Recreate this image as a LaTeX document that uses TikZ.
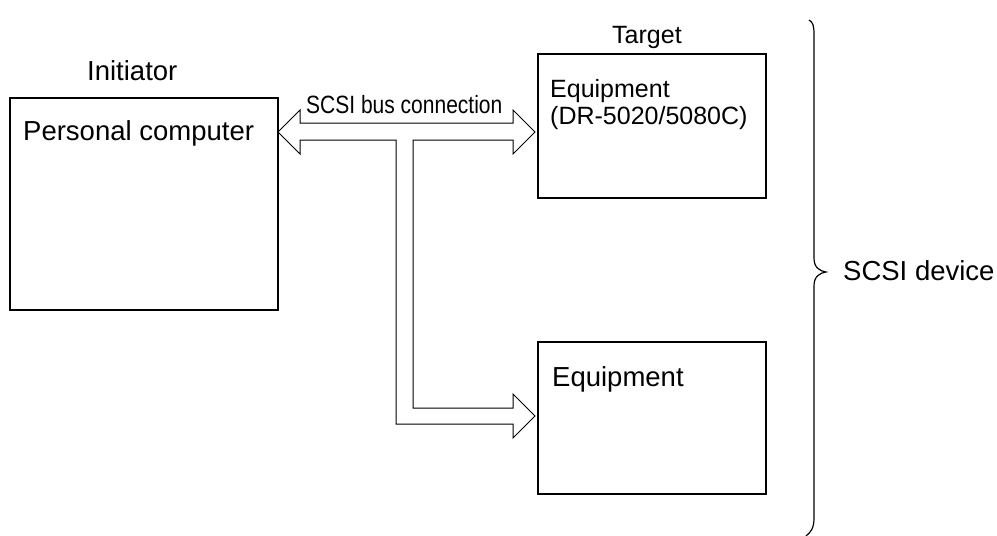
\documentclass[tikz,border=0pt]{standalone}
\usepackage{fontspec}
\setmainfont{Liberation Sans}
\usepackage{graphicx}
\usetikzlibrary{positioning}
\tikzset{scsibox/.style={draw=black,line width=2pt,inner sep=0pt,anchor=north west},
 scsitxt/.style={inner sep=0pt,anchor=base west,align=left,
 font=\fontsize{27.5}{27}\selectfont},
 smalltxt/.style={scsitxt,font=\fontsize{25}{27}\selectfont},
 busarrow/.style={draw=black,line width=1pt,line join=miter,fill=white},
 bracket/.style={draw=black,line width=1.2pt}}
\begin{document}
\begin{tikzpicture}[x=1pt,y=-1pt]
\useasboundingbox (0,0) rectangle (997,536);
\node[scsibox,minimum width=268pt,minimum height=212pt] (pc) at (9,97) {};
\node[scsibox,minimum width=228pt,minimum height=144pt] (dr) at (537,53) {};
\node[scsibox,minimum width=228pt,minimum height=152pt] (eq) at (537,341) {};
\node[scsitxt] (pctxt) at (23,140) {Personal computer};
\node[smalltxt] (drtxt) at (550,124) {Equipment\\(DR-5020/5080C)};
\node[scsitxt] (eqtxt) at (552,386) {Equipment};
\node[scsitxt] (init) at (87,80) {Initiator};
\node[smalltxt] (targ) at (612,43) {Target};
\node[scsitxt] (dev) at (843,280) {SCSI device};
\node[smalltxt] (bus) at (306,113)
 {\scalebox{0.84}[1]{SCSI bus connection}};
% bus outline
\draw[busarrow] (278,132) -- (300,110) -- (300,123) -- (513,123) -- (513,110)
 -- (535,132) -- (513,154) -- (513,140) -- (413,140) -- (413,408) -- (513,408)
 -- (513,394) -- (535,416) -- (513,438) -- (513,424) -- (396,424) -- (396,140)
 -- (300,140) -- (300,154) -- cycle;
% brace
\draw[bracket] (809,20) .. controls (813,22) and (814,26) .. (814,34) -- (814,258)
 .. controls (814,268) and (820,271) .. (826,272)
 .. controls (820,273) and (814,276) .. (814,286) -- (814,518)
 .. controls (814,528) and (811,532) .. (806,536);
\end{tikzpicture}
\end{document}
